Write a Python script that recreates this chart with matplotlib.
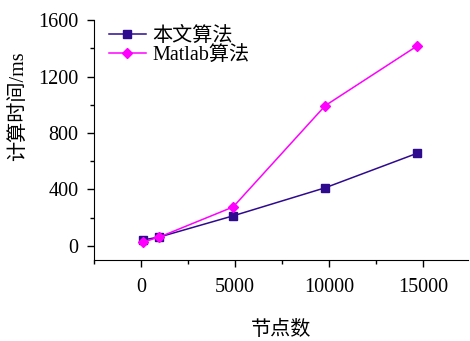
import matplotlib.pyplot as plt
from matplotlib.ticker import MultipleLocator

plt.rcParams['font.family'] = ['Liberation Serif', 'Noto Sans CJK SC']

nodes = [98, 980, 4900, 9800, 14700]
ours = [42, 63, 213, 412, 657]
matlab = [26, 63, 276, 994, 1418]
labels = ['本文算法', 'Matlab算法']

fig = plt.figure(figsize=(4.7, 3.41), dpi=100)
ax = fig.add_axes([0.2, 0.2375, 0.796, 0.7035])

ax.plot(nodes, ours, color='#2E0A8E', marker='s', markersize=5.5, linewidth=1.1, label=labels[0])
ax.plot(nodes, matlab, color='#FF00FF', marker='D', markersize=5.5, linewidth=1.1, label=labels[1])

ax.set_xlim(-2500, 17400)
ax.set_ylim(-100, 1600)
ax.xaxis.set_major_locator(MultipleLocator(5000))
ax.xaxis.set_minor_locator(MultipleLocator(2500))
ax.yaxis.set_major_locator(MultipleLocator(400))
ax.yaxis.set_minor_locator(MultipleLocator(200))
ax.tick_params(which='major', direction='out', length=5, width=1, labelsize=14.5)
ax.tick_params(axis='x', which='major', pad=8)
ax.tick_params(axis='y', which='major', pad=6)
ax.tick_params(which='minor', direction='out', length=3, width=1)

ax.spines['top'].set_visible(False)
ax.spines['right'].set_visible(False)

ax.set_xlabel('节点数', fontsize=14.5)
ax.xaxis.set_label_coords(0.5, -0.255)
ax.set_ylabel('计算时间/ms', fontsize=14.5)
ax.yaxis.set_label_coords(-0.176, 0.64)

ax.legend(loc='upper left', bbox_to_anchor=(0.03, 0.99), frameon=False, fontsize=14.5,
          handlelength=1.8, borderaxespad=0, borderpad=0.2, handletextpad=0.35,
          labelspacing=0.0)

fig.savefig('out.png', dpi=100)
